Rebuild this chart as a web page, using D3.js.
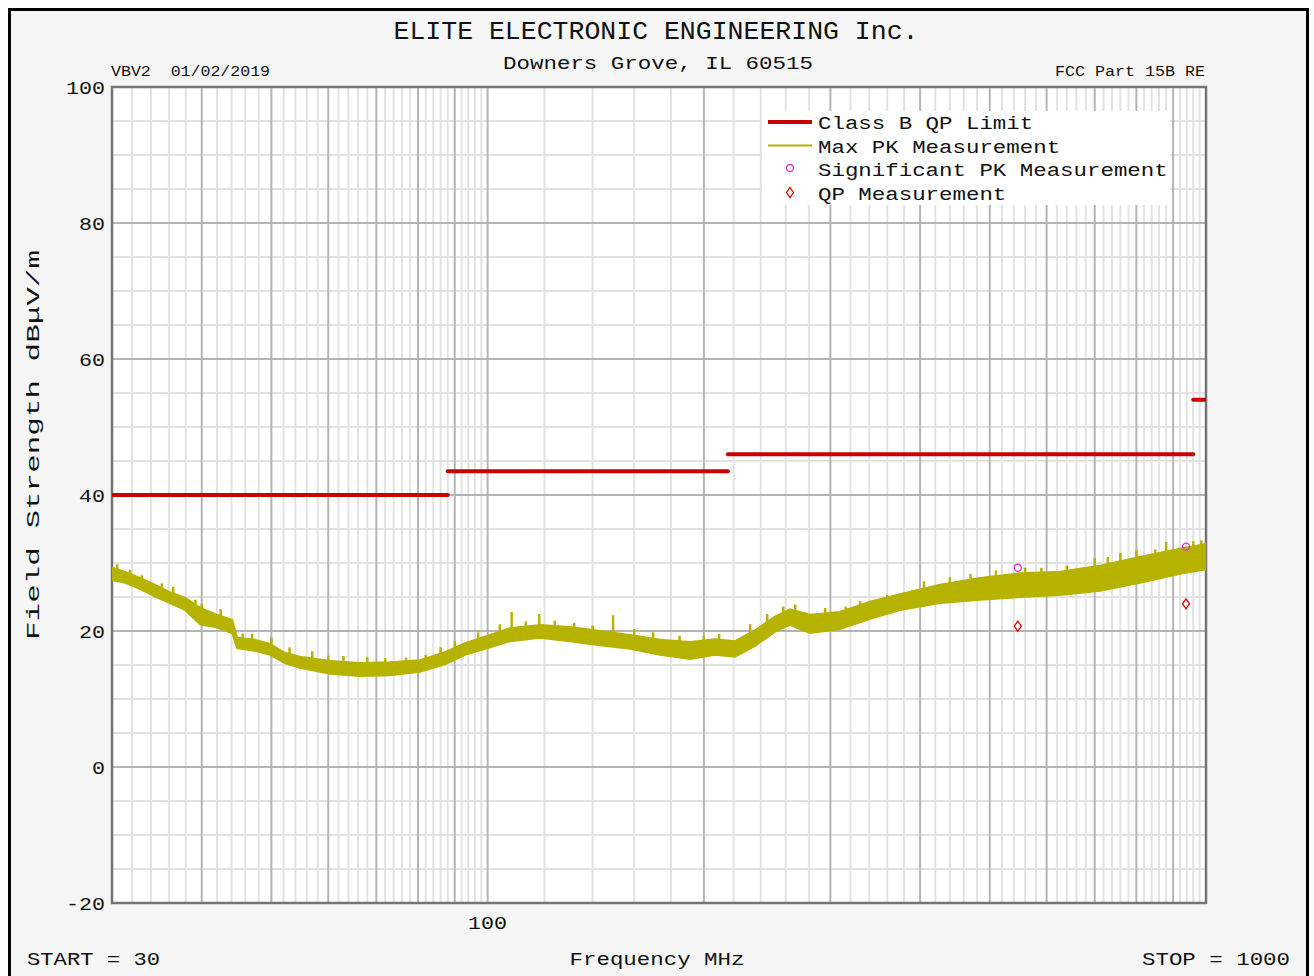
<!DOCTYPE html>
<html>
<head>
<meta charset="utf-8">
<script src="https://cdn.jsdelivr.net/npm/d3@7"></script>
<style>
  body { margin: 0; background: #fff; }
  text { font-family: "Liberation Mono", "DejaVu Sans Mono", monospace; fill: #111; white-space: pre; }
</style>
</head>
<body>
<script>
const W = 1314;
const H = 976;

// axis
const yTicks = [100, 80, 60, 40, 20, 0, -20];
const xTickLabels = [100];
const freqStart = 30;
const freqStop = 1000;

// class B QP limit segments
const limitFrom = [30, 88, 216, 960];
const limitTo = [88, 216, 960, 1000];
const limitLevel = [40, 43.5, 46, 54];

// max PK trace, read as a band (top and bottom of the noisy trace)
const pkFreq = [30, 31.3, 32.8, 34.4, 36.1, 37.9, 39.8, 41.7, 44.1, 44.8, 47.4, 49.8, 52.2, 54.8,
    60.4, 66.4, 73.1, 80.5, 87.2, 93.0, 100, 107.4, 118.3, 130.2, 143.4, 157.9, 173.8, 191.3,
    207.3, 221, 235.6, 251.2, 263.5, 281, 309.3, 340.7, 375, 426.3, 484.6, 550.8, 626, 712,
    809, 920, 1000];
const pkHigh = [29.3, 28.7, 27.8, 26.8, 25.7, 24.9, 23.4, 22.5, 21.6, 19.0, 18.7, 18.1, 16.8, 16.2,
    15.6, 15.3, 15.4, 15.7, 16.9, 18.2, 19.3, 20.4, 20.9, 20.6, 20.0, 19.4, 18.7, 18.4,
    18.8, 18.5, 20.1, 22.1, 23.2, 22.4, 22.8, 24.3, 25.4, 26.8, 27.8, 28.5, 28.7, 29.6,
    30.9, 32.1, 32.8];
const pkLow = [27.5, 27.1, 26.2, 25.1, 24.1, 23.1, 21.0, 20.6, 19.7, 17.5, 17.1, 16.5, 15.3, 14.6,
    13.7, 13.4, 13.5, 14.0, 15.1, 16.5, 17.5, 18.5, 19.0, 18.5, 17.9, 17.4, 16.5, 15.9,
    16.5, 16.2, 17.8, 19.9, 20.9, 19.7, 20.3, 21.8, 23.1, 24.1, 24.6, 25.0, 25.3, 25.9,
    27.1, 28.4, 29.1];

// single spikes that stick out of the band
const spikeFreq = [30.5, 31.8, 33, 35.2, 36.5, 39.2, 40, 42.5, 45.6, 47, 50, 53, 57, 60, 63, 68, 72,
    77, 82, 86, 90, 97, 104, 108, 113, 118, 124, 132, 140, 149.5, 160, 170, 185, 200, 210,
    232, 245, 258, 268, 295, 315, 330, 360, 390, 405, 440, 470, 510, 560, 590, 640, 700,
    730, 760, 800, 850, 880, 960, 985];
const spikeDb = [29.8, 29.0, 28.2, 27.0, 26.5, 24.6, 24.0, 23.2, 19.6, 19.6, 19.0, 17.6, 17.0, 16.4,
    16.3, 16.2, 16.0, 16.1, 16.5, 17.6, 18.5, 19.8, 21.0, 22.8, 21.4, 22.5, 21.5, 21.2, 20.8,
    22.3, 20.3, 19.8, 19.3, 19.3, 19.6, 21.0, 22.5, 23.6, 23.9, 23.4, 23.6, 24.4, 25.3, 26.0,
    27.3, 27.9, 28.4, 28.9, 29.3, 29.3, 29.6, 30.7, 30.9, 31.5, 31.9, 32.0, 33.1, 33.2, 33.3];

// marked measurements
const sigPkFreq = [547, 938];
const sigPkDb = [29.3, 32.4];
const qpFreq = [547, 938];
const qpDb = [20.7, 24.0];

const legendNames = ["Class B QP Limit", "Max PK Measurement", "Significant PK Measurement", "QP Measurement"];

const svg = d3.select("body").append("svg")
    .attr("width", W)
    .attr("height", H);

// page frame
svg.append("rect")
    .attr("x", 9.5).attr("y", 9.5)
    .attr("width", 1298).attr("height", 980)
    .attr("fill", "#f5f5f5")
    .attr("stroke", "#000")
    .attr("stroke-width", 3);

const pLeft = 112, pRight = 1206, pTop = 87, pBottom = 903;

const x = d3.scaleLog().domain([freqStart, freqStop]).range([pLeft, pRight]);
const y = d3.scaleLinear().domain([-20, 100]).range([pBottom, pTop]);

svg.append("rect")
    .attr("x", pLeft).attr("y", pTop)
    .attr("width", pRight - pLeft).attr("height", pBottom - pTop)
    .attr("fill", "#fff");

// grid
const minorF = d3.range(32, 100, 2).concat(d3.range(120, 1000, 20));
const majorF = d3.range(40, 100, 10).concat(d3.range(100, 1000, 100));
const grid = svg.append("g");
grid.selectAll(".vmin").data(minorF.filter(f => majorF.indexOf(f) < 0)).join("line")
    .attr("x1", d => x(d)).attr("x2", d => x(d))
    .attr("y1", pTop).attr("y2", pBottom)
    .attr("stroke", "#e2e2e2").attr("stroke-width", 2);
grid.selectAll(".hmin").data(d3.range(-15, 100, 5).filter(v => v % 20 != 0)).join("line")
    .attr("x1", pLeft).attr("x2", pRight)
    .attr("y1", d => y(d)).attr("y2", d => y(d))
    .attr("stroke", "#e2e2e2").attr("stroke-width", 2);
grid.selectAll(".vmaj").data(majorF).join("line")
    .attr("x1", d => x(d)).attr("x2", d => x(d))
    .attr("y1", pTop).attr("y2", pBottom)
    .attr("stroke", "#b4b4b4").attr("stroke-width", 2);
grid.selectAll(".hmaj").data(yTicks.slice(1, -1)).join("line")
    .attr("x1", pLeft).attr("x2", pRight)
    .attr("y1", d => y(d)).attr("y2", d => y(d))
    .attr("stroke", "#b4b4b4").attr("stroke-width", 2);

svg.append("rect")
    .attr("x", pLeft).attr("y", pTop)
    .attr("width", pRight - pLeft).attr("height", pBottom - pTop)
    .attr("fill", "none")
    .attr("stroke", "#747474")
    .attr("stroke-width", 2.5);

svg.append("clipPath").attr("id", "plotclip")
    .append("rect")
    .attr("x", pLeft).attr("y", pTop)
    .attr("width", pRight - pLeft).attr("height", pBottom - pTop);

const plot = svg.append("g").attr("clip-path", "url(#plotclip)");

// max PK band
const pk = pkFreq.map((f, i) => ({ f: f, hi: pkHigh[i], lo: pkLow[i] }));
plot.append("path")
    .datum(pk)
    .attr("d", d3.area().x(d => x(d.f)).y0(d => y(d.lo)).y1(d => y(d.hi)))
    .attr("fill", "#b5b200")
    .attr("stroke", "#b5b200")
    .attr("stroke-width", 2);

// spikes
const bandTop = d3.scaleLog().domain(pkFreq).range(pkHigh);
plot.selectAll(".spike").data(spikeFreq).join("line")
    .attr("x1", d => x(d)).attr("x2", d => x(d))
    .attr("y1", d => y(bandTop(d)) + 3)
    .attr("y2", (d, i) => y(spikeDb[i]))
    .attr("stroke", "#b5b200")
    .attr("stroke-width", 2.5);

// limit lines
plot.selectAll(".limit").data(limitLevel).join("line")
    .attr("x1", (d, i) => x(limitFrom[i]))
    .attr("x2", (d, i) => x(limitTo[i]))
    .attr("y1", d => y(d)).attr("y2", d => y(d))
    .attr("stroke", "#c80000")
    .attr("stroke-width", 4)
    .attr("stroke-linecap", "round");

// measurements
svg.selectAll(".sig").data(sigPkFreq).join("circle")
    .attr("cx", d => x(d))
    .attr("cy", (d, i) => y(sigPkDb[i]))
    .attr("r", 3.5)
    .attr("fill", "none")
    .attr("stroke", "#e030e0")
    .attr("stroke-width", 1.3);

const diamond = (cx, cy) => `M${cx},${cy - 5}L${cx + 3.5},${cy}L${cx},${cy + 5}L${cx - 3.5},${cy}Z`;
svg.selectAll(".qp").data(qpFreq).join("path")
    .attr("d", (d, i) => diamond(x(d), y(qpDb[i])))
    .attr("fill", "none")
    .attr("stroke", "#e00000")
    .attr("stroke-width", 1.3);

// text helper
function label(str, tx, ty, size, len, anchor) {
    const t = svg.append("text")
        .attr("x", tx).attr("y", ty)
        .attr("font-size", size)
        .attr("text-anchor", anchor || "start")
        .text(str);
    if (len) t.attr("textLength", len).attr("lengthAdjust", "spacingAndGlyphs");
    return t;
}

// tick labels
yTicks.forEach(v => {
    const s = String(v);
    label(s, 105, y(v) + 7, 19, s.length * 13, "end");
});
xTickLabels.forEach(v => {
    const s = String(v);
    label(s, x(v), 929, 19, s.length * 13, "middle");
});

// headings
label("ELITE ELECTRONIC ENGINEERING Inc.", 656, 39, 26, 525, "middle");
label("Downers Grove, IL 60515", 658, 69, 19, 310, "middle");
label("VBV2  01/02/2019", 111, 76, 14, 159);
label("FCC Part 15B RE", 1205, 76, 14, 150, "end");

label("START = 30", 27, 965, 19, 133);
label("Frequency MHz", 657, 965, 19, 175, "middle");
label("STOP = 1000", 1290, 965, 19, 148, "end");

svg.append("text")
    .attr("transform", "translate(39,445) rotate(-90)")
    .attr("font-size", 19)
    .attr("text-anchor", "middle")
    .attr("textLength", 390)
    .attr("lengthAdjust", "spacingAndGlyphs")
    .text("Field Strength dBμV/m");

// legend
const lg = svg.append("g");
lg.append("rect")
    .attr("x", 762).attr("y", 111)
    .attr("width", 408).attr("height", 94)
    .attr("fill", "#fff");
const rowY = [122, 145.5, 169, 192.5];
lg.append("line").attr("x1", 768).attr("x2", 812).attr("y1", rowY[0]).attr("y2", rowY[0])
    .attr("stroke", "#c80000").attr("stroke-width", 4);
lg.append("line").attr("x1", 768).attr("x2", 812).attr("y1", rowY[1]).attr("y2", rowY[1])
    .attr("stroke", "#b5b200").attr("stroke-width", 2);
lg.append("circle").attr("cx", 790).attr("cy", rowY[2] - 1).attr("r", 3.5)
    .attr("fill", "none").attr("stroke", "#e030e0").attr("stroke-width", 1.3);
lg.append("path").attr("d", diamond(790, rowY[3]))
    .attr("fill", "none").attr("stroke", "#e00000").attr("stroke-width", 1.3);
legendNames.forEach((n, i) => {
    label(n, 818, rowY[i] + 7, 19, n.length * 13.45);
});
</script>
</body>
</html>
